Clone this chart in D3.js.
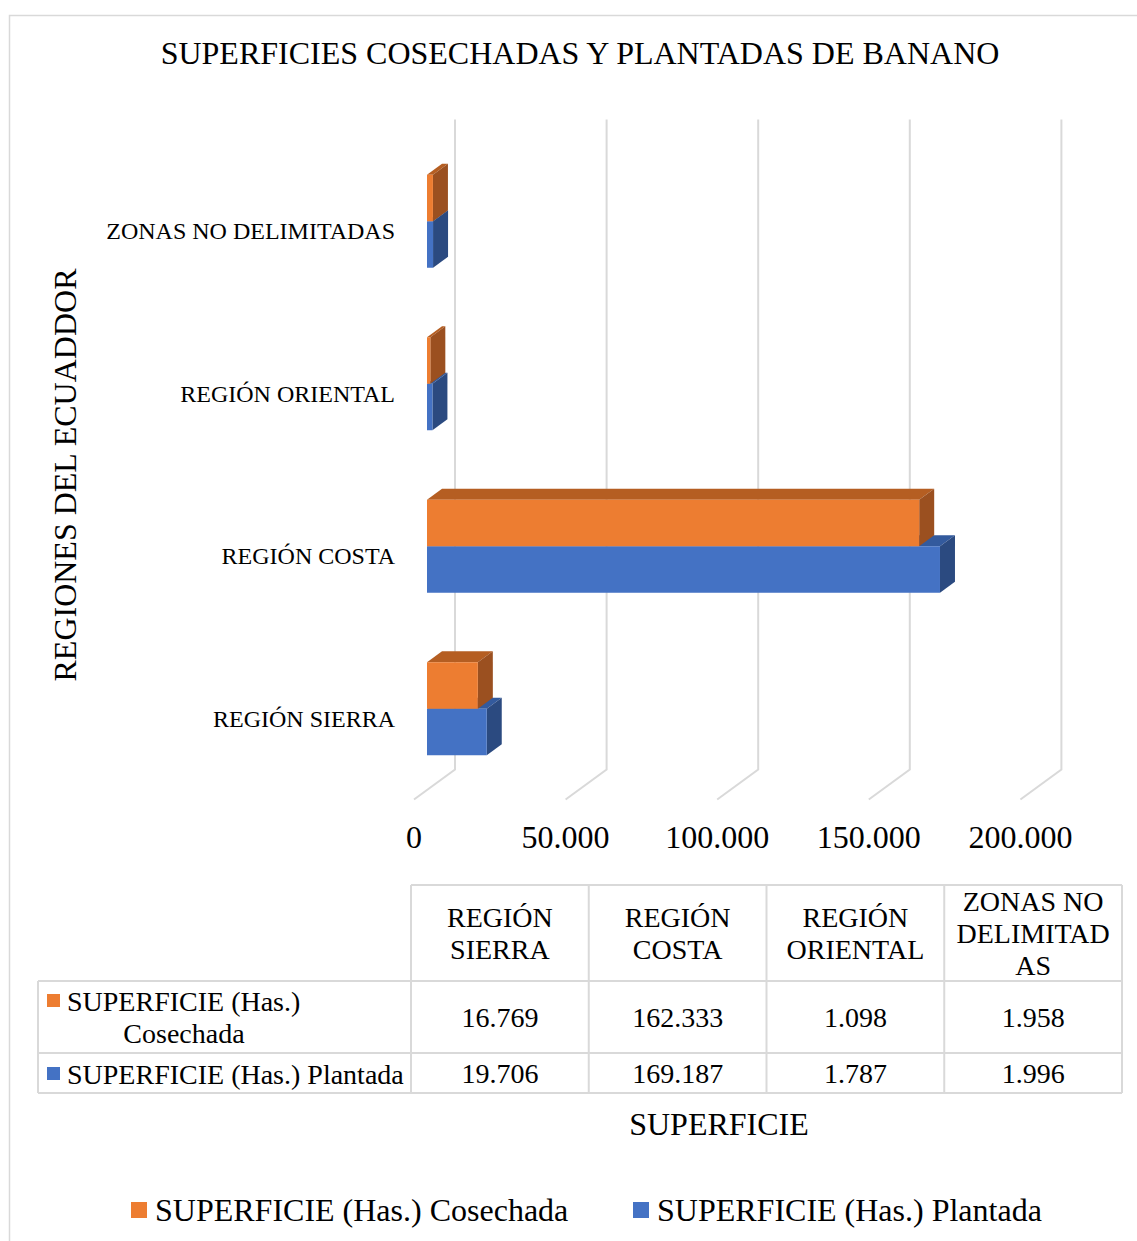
<!DOCTYPE html>
<html>
<head>
<meta charset="utf-8">
<script src="https://cdn.jsdelivr.net/npm/d3@7"></script>
<style>
  body { margin: 0; background: #fff; }
  text { font-family: "Liberation Serif", "Times New Roman", serif; fill: #000; }
</style>
</head>
<body>
<div id="chart"></div>
<script>
// data
var categories = ["REGIÓN SIERRA", "REGIÓN COSTA", "REGIÓN ORIENTAL", "ZONAS NO DELIMITADAS"];
var headerLines = [["REGIÓN", "SIERRA"], ["REGIÓN", "COSTA"], ["REGIÓN", "ORIENTAL"], ["ZONAS NO", "DELIMITAD", "AS"]];
var seriesNames = ["SUPERFICIE (Has.) Cosechada", "SUPERFICIE (Has.) Plantada"];
var cosechada = [16769, 162333, 1098, 1958];
var plantada = [19706, 169187, 1787, 1996];
var tickValues = [0, 50000, 100000, 150000, 200000];

var colors = [
  {front: "#ED7D31", top: "#B55E22", side: "#9B5020"},
  {front: "#4472C4", top: "#335A9D", side: "#2B4A80"}
];

var width = 1137, height = 1241;
var es = d3.formatLocale({decimal: ",", thousands: ".", grouping: [3], currency: ["$", ""]});
var fmt = es.format(",d");

var svg = d3.select("#chart").append("svg")
  .attr("width", width)
  .attr("height", height);

svg.append("rect")
  .attr("x", 9.5).attr("y", 15.5)
  .attr("width", 1140).attr("height", 1240)
  .attr("fill", "none").attr("stroke", "#d9d9d9").attr("stroke-width", 1.5);

svg.append("text")
  .attr("x", 580).attr("y", 64)
  .attr("text-anchor", "middle")
  .style("font-size", "32px")
  .text("SUPERFICIES COSECHADAS Y PLANTADAS DE BANANO");

// scales (front plane of bars)
var x = d3.scaleLinear().domain([0, 200000]).range([427, 1033.4]);
var y = d3.scaleBand().domain(categories).range([790, 140]);
var barH = 46.5;
var depth = {dx: 15, dy: -11};
var wall = {dx: 28, dy: -20.5};
var floorFront = {dx: -13, dy: 9.5};

// gridlines: back wall + floor
var grid = svg.append("g").attr("stroke", "#d9d9d9").attr("stroke-width", 2).attr("fill", "none");
grid.selectAll("path")
  .data(tickValues)
  .enter().append("path")
  .attr("d", function(d) {
    var x0 = x(d);
    return "M" + (x0 + wall.dx) + "," + (y.range()[1] + wall.dy) +
      "L" + (x0 + wall.dx) + "," + (y.range()[0] + wall.dy) +
      "L" + (x0 + floorFront.dx) + "," + (y.range()[0] + floorFront.dy);
  });

// tick labels
svg.append("g").selectAll("text")
  .data(tickValues)
  .enter().append("text")
  .attr("x", function(d) { return x(d) + floorFront.dx; })
  .attr("y", 848)
  .attr("text-anchor", "middle")
  .style("font-size", "32px")
  .text(function(d) { return fmt(d); });

// category labels
svg.append("g").selectAll("text")
  .data(categories)
  .enter().append("text")
  .attr("x", 395)
  .attr("y", function(d) { return y(d) + y.bandwidth() / 2 + 18; })
  .attr("text-anchor", "end")
  .style("font-size", "24px")
  .text(function(d) { return d; });

svg.append("text")
  .attr("transform", "translate(76,475) rotate(-90)")
  .attr("text-anchor", "middle")
  .style("font-size", "32px")
  .text("REGIONES DEL ECUADDOR");

// 3D bars
function drawBar(g, v, yTop, c) {
  var x0 = x(0), x1 = x(v), y0 = yTop, y1 = yTop + barH;
  var dx = depth.dx, dy = depth.dy;
  g.append("path")
    .attr("d", "M" + x0 + "," + y0 + "L" + (x0 + dx) + "," + (y0 + dy) + "L" + (x1 + dx) + "," + (y0 + dy) + "L" + x1 + "," + y0 + "Z")
    .attr("fill", c.top);
  g.append("path")
    .attr("d", "M" + x1 + "," + y0 + "L" + (x1 + dx) + "," + (y0 + dy) + "L" + (x1 + dx) + "," + (y1 + dy) + "L" + x1 + "," + y1 + "Z")
    .attr("fill", c.side);
  g.append("rect")
    .attr("x", x0).attr("y", y0)
    .attr("width", x1 - x0).attr("height", barH)
    .attr("fill", c.front);
}

var bars = svg.append("g");
categories.forEach(function(cat, i) {
  var mid = y(cat) + y.bandwidth() / 2;
  var g = bars.append("g");
  drawBar(g, plantada[i], mid, colors[1]);
  drawBar(g, cosechada[i], mid - barH, colors[0]);
});

// data table
var col = d3.scaleBand().domain(categories).range([411, 1122]);
var rows = [885, 981, 1053, 1093];
var tableLeft = 38;
var tbl = svg.append("g");
var line = tbl.append("g").attr("stroke", "#d9d9d9").attr("stroke-width", 2);

line.append("line").attr("x1", col.range()[0]).attr("x2", col.range()[1]).attr("y1", rows[0]).attr("y2", rows[0]);
rows.slice(1).forEach(function(r) {
  line.append("line").attr("x1", tableLeft).attr("x2", col.range()[1]).attr("y1", r).attr("y2", r);
});
line.append("line").attr("x1", tableLeft).attr("x2", tableLeft).attr("y1", rows[1]).attr("y2", rows[3]);
categories.forEach(function(cat) {
  line.append("line").attr("x1", col(cat)).attr("x2", col(cat)).attr("y1", rows[0]).attr("y2", rows[3]);
});
line.append("line").attr("x1", col.range()[1]).attr("x2", col.range()[1]).attr("y1", rows[0]).attr("y2", rows[3]);

categories.forEach(function(cat, i) {
  var cx = col(cat) + col.bandwidth() / 2;
  var lines = headerLines[i];
  var startY = (rows[0] + rows[1]) / 2 - (lines.length - 1) * 16 + 10;
  lines.forEach(function(t, k) {
    tbl.append("text").attr("x", cx).attr("y", startY + k * 32)
      .attr("text-anchor", "middle").style("font-size", "28px").text(t);
  });
  tbl.append("text").attr("x", cx).attr("y", (rows[1] + rows[2]) / 2 + 10)
    .attr("text-anchor", "middle").style("font-size", "28px").text(fmt(cosechada[i]));
  tbl.append("text").attr("x", cx).attr("y", (rows[2] + rows[3]) / 2 + 10)
    .attr("text-anchor", "middle").style("font-size", "28px").text(fmt(plantada[i]));
});

// row labels with keys
tbl.append("rect").attr("x", 47).attr("y", 994).attr("width", 13).attr("height", 13).attr("fill", colors[0].front);
tbl.append("text").attr("x", 67).attr("y", 1011).style("font-size", "28px").text("SUPERFICIE (Has.)");
tbl.append("text").attr("x", 184).attr("y", 1043).attr("text-anchor", "middle").style("font-size", "28px").text("Cosechada");
tbl.append("rect").attr("x", 47).attr("y", 1067).attr("width", 13).attr("height", 13).attr("fill", colors[1].front);
tbl.append("text").attr("x", 67).attr("y", 1084).style("font-size", "28px").text(seriesNames[1]);

svg.append("text")
  .attr("x", 719).attr("y", 1135)
  .attr("text-anchor", "middle")
  .style("font-size", "32px")
  .text("SUPERFICIE");

// legend
var legendX = [131, 633];
var legend = svg.append("g").selectAll("g")
  .data(seriesNames)
  .enter().append("g")
  .attr("transform", function(d, i) { return "translate(" + legendX[i] + ",1202)"; });
legend.append("rect").attr("width", 16).attr("height", 16)
  .attr("fill", function(d, i) { return colors[i].front; });
legend.append("text").attr("x", 24).attr("y", 19)
  .style("font-size", "32px")
  .text(function(d) { return d; });
</script>
</body>
</html>
